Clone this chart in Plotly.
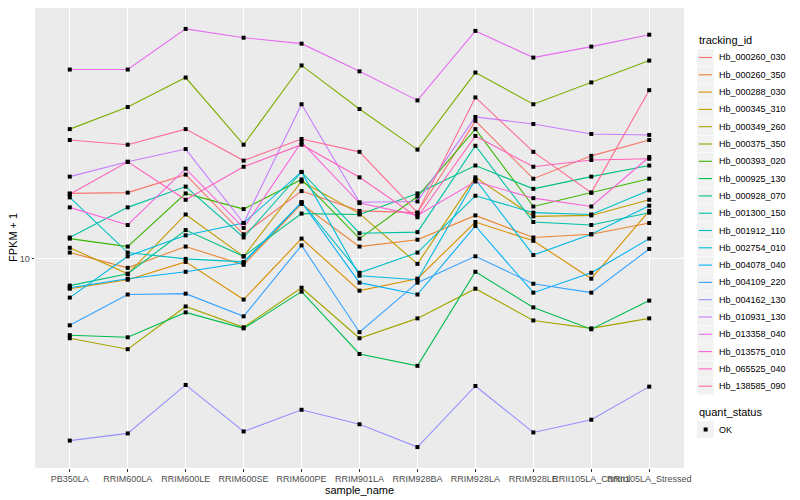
import numpy as np
import plotly.graph_objects as go

samples = ["PB350LA", "RRIM600LA", "RRIM600LE", "RRIM600SE", "RRIM600PE", "RRIM901LA",
           "RRIM928BA", "RRIM928LA", "RRIM928LE", "RRII105LA_Control", "RRII105LA_Stressed"]

tracking_ids = ["Hb_000260_030", "Hb_000260_350", "Hb_000288_030", "Hb_000345_310",
                "Hb_000349_260", "Hb_000375_350", "Hb_000393_020", "Hb_000925_130",
                "Hb_000928_070", "Hb_001300_150", "Hb_001912_110", "Hb_002754_010",
                "Hb_004078_040", "Hb_004109_220", "Hb_004162_130", "Hb_010931_130",
                "Hb_013358_040", "Hb_013575_010", "Hb_065525_040", "Hb_138585_090"]

# FPKM + 1 values, one list per tracking_id (order of samples)
hb_000260_030 = [16.6, 16.7, 19.2, 12.1, 16.9, 14.5, 14.3, 29.1, 18.6, 22.2, 25.1]
hb_000260_350 = [10.5, 9.33, 11.0, 9.55, 15.3, 11.0, 11.6, 14.0, 11.8, 12.1, 13.2]
hb_000288_030 = [7.94, 8.51, 9.77, 7.30, 11.7, 7.82, 8.58, 13.3, 11.5, 8.58, 14.5]
hb_000345_310 = [10.9, 8.91, 14.1, 10.2, 18.2, 14.2, 9.62, 18.8, 13.9, 14.0, 15.8]
hb_000349_260 = [5.41, 4.97, 6.92, 5.89, 8.00, 5.41, 6.31, 7.94, 6.21, 5.84, 6.31]
hb_000375_350 = [27.3, 32.4, 40.7, 24.2, 44.7, 31.9, 23.3, 42.3, 33.1, 39.2, 46.4]
hb_000393_020 = [11.7, 11.0, 16.6, 14.7, 18.5, 11.7, 16.2, 27.3, 15.0, 16.7, 18.6]
hb_000925_130 = [5.54, 5.45, 6.61, 5.84, 7.76, 4.79, 4.37, 9.05, 6.87, 5.80, 7.24]
hb_000928_070 = [8.13, 8.91, 12.5, 10.2, 14.2, 14.1, 16.6, 20.6, 17.2, 18.9, 20.6]
hb_001300_150 = [11.8, 14.9, 17.5, 11.8, 19.6, 12.2, 12.3, 24.0, 13.3, 13.0, 14.3]
hb_001912_110 = [16.1, 10.5, 10.0, 9.77, 15.5, 8.98, 10.5, 16.3, 14.3, 14.1, 17.0]
hb_002754_010 = [7.41, 10.2, 12.0, 13.2, 19.6, 8.78, 8.51, 18.5, 10.3, 12.1, 15.1]
hb_004078_040 = [8.00, 8.58, 9.05, 9.70, 15.5, 8.32, 7.59, 12.9, 7.70, 8.98, 11.7]
hb_004109_220 = [5.98, 7.59, 7.64, 6.41, 11.1, 5.67, 8.32, 10.2, 8.25, 7.70, 10.8]
hb_004162_130 = [2.45, 2.59, 3.77, 2.63, 3.11, 2.78, 2.33, 3.74, 2.61, 2.88, 3.72]
hb_010931_130 = [18.9, 21.2, 23.4, 13.2, 33.1, 15.5, 15.6, 30.0, 28.4, 26.3, 26.1]
hb_013358_040 = [43.3, 43.3, 59.3, 55.4, 52.9, 42.7, 34.1, 58.4, 47.5, 51.7, 56.7]
hb_013575_010 = [14.9, 13.0, 20.1, 12.7, 24.7, 15.4, 14.0, 18.2, 16.0, 15.0, 22.0]
hb_065525_040 = [16.5, 21.2, 15.8, 20.4, 24.2, 18.8, 13.8, 25.9, 20.4, 21.5, 21.7]
hb_138585_090 = [25.1, 24.2, 27.3, 21.4, 25.3, 22.9, 14.3, 34.9, 22.9, 16.7, 36.9]

series = [hb_000260_030, hb_000260_350, hb_000288_030, hb_000345_310, hb_000349_260,
          hb_000375_350, hb_000393_020, hb_000925_130, hb_000928_070, hb_001300_150,
          hb_001912_110, hb_002754_010, hb_004078_040, hb_004109_220, hb_004162_130,
          hb_010931_130, hb_013358_040, hb_013575_010, hb_065525_040, hb_138585_090]

quant_status = "OK"

colors = ["#F8766D", "#EA8331", "#D89000", "#C09B00", "#A3A500", "#7CAE00", "#39B600",
          "#00BB4E", "#00BF7D", "#00C1A3", "#00BFC4", "#00BAE0", "#00B0F6", "#35A2FF",
          "#9590FF", "#C77CFF", "#E76BF3", "#FA62DB", "#FF62BC", "#FF6C91"]

FONT = "Liberation Sans, Arial, sans-serif"
OFF = 8                     # page body margin of the viewer
W, H = 800 - OFF, 500 - OFF
# margins expressed so that the panel lands at page px x 35..684, y ~5..468
ML, MR, MT, MB = 35 - OFF, 116, 0, 32
PW, PH = W - ML - MR, H - MT - MB


def px2x(px):
    """page pixel x -> paper x"""
    return (px - OFF - ML) / PW


def px2y(py):
    """page pixel y -> paper y"""
    return (H - MB - (py - OFF)) / PH


fig = go.Figure()
for tid, vals, col in zip(tracking_ids, series, colors):
    fig.add_trace(go.Scatter(x=samples, y=vals, mode="lines", name=tid,
                             line=dict(color=col, width=1.1), showlegend=False))

all_x = [s for _ in series for s in samples]
all_y = [v for vals in series for v in vals]
fig.add_trace(go.Scatter(x=all_x, y=all_y, mode="markers", name=quant_status,
                         marker=dict(symbol="square", size=4, color="black"),
                         showlegend=False))

lo, hi = np.log10(min(all_y)), np.log10(max(all_y))
pad = 0.05 * (hi - lo)

# ---- manual ggplot-style legends ----
shapes, annotations = [], []
LX = 697          # legend left (page px)
KEY = 17.3        # key size (px)
TXT_X = 717
title_y = 40
first_y = 57.5

annotations.append(dict(text="tracking_id", xref="paper", yref="paper", x=px2x(LX),
                        y=px2y(title_y), xanchor="left", yanchor="middle", showarrow=False,
                        font=dict(size=11, color="black", family=FONT)))
for i, (tid, col) in enumerate(zip(tracking_ids, colors)):
    cy = first_y + i * KEY
    shapes.append(dict(type="rect", xref="paper", yref="paper",
                       x0=px2x(LX), x1=px2x(LX + KEY - 0.6),
                       y0=px2y(cy - KEY / 2 + 0.3), y1=px2y(cy + KEY / 2 - 0.3),
                       fillcolor="#F2F2F2", line=dict(width=0), layer="below"))
    shapes.append(dict(type="line", xref="paper", yref="paper",
                       x0=px2x(LX + 1.7), x1=px2x(LX + KEY - 2.3),
                       y0=px2y(cy), y1=px2y(cy), line=dict(color=col, width=1.1)))
    annotations.append(dict(text=tid, xref="paper", yref="paper", x=px2x(TXT_X),
                            y=px2y(cy), xanchor="left", yanchor="middle", showarrow=False,
                            font=dict(size=9, color="black", family=FONT)))

qs_title_y = 412
qs_y = 429.5
annotations.append(dict(text="quant_status", xref="paper", yref="paper", x=px2x(LX),
                        y=px2y(qs_title_y), xanchor="left", yanchor="middle", showarrow=False,
                        font=dict(size=11, color="black", family=FONT)))
shapes.append(dict(type="rect", xref="paper", yref="paper",
                   x0=px2x(LX), x1=px2x(LX + KEY - 0.6),
                   y0=px2y(qs_y - KEY / 2 + 0.3), y1=px2y(qs_y + KEY / 2 - 0.3),
                   fillcolor="#F2F2F2", line=dict(width=0), layer="below"))
shapes.append(dict(type="rect", xref="paper", yref="paper",
                   x0=px2x(LX + KEY / 2 - 2), x1=px2x(LX + KEY / 2 + 2),
                   y0=px2y(qs_y - 2), y1=px2y(qs_y + 2),
                   fillcolor="black", line=dict(width=0)))
annotations.append(dict(text=quant_status, xref="paper", yref="paper", x=px2x(TXT_X),
                        y=px2y(qs_y), xanchor="left", yanchor="middle", showarrow=False,
                        font=dict(size=9, color="black", family=FONT)))

# axis titles
annotations.append(dict(text="sample_name", xref="paper", yref="paper", x=0.5,
                        y=px2y(490), xanchor="center", yanchor="middle", showarrow=False,
                        font=dict(size=11, color="black", family=FONT)))
annotations.append(dict(text="FPKM + 1", xref="paper", yref="paper", x=px2x(13),
                        y=0.5, xanchor="center", yanchor="middle", showarrow=False,
                        textangle=-90, font=dict(size=11, color="black", family=FONT)))

fig.update_layout(
    width=W, height=H,
    margin=dict(l=ML, r=MR, t=MT, b=MB, autoexpand=False),
    paper_bgcolor="white", plot_bgcolor="#EBEBEB",
    font=dict(family=FONT, size=9, color="black"),
    showlegend=False,
    shapes=shapes, annotations=annotations,
    xaxis=dict(type="category", categoryorder="array", categoryarray=samples,
               range=[-0.6, len(samples) - 0.4], showgrid=True, gridcolor="white",
               gridwidth=1.1, zeroline=False, ticks="outside", ticklen=2.5,
               tickcolor="#333333", tickangle=0, automargin=False,
               tickfont=dict(size=9, color="#4D4D4D")),
    yaxis=dict(type="log", range=[lo - pad, hi + pad], tickvals=[10], ticktext=["10"],
               showgrid=True, gridcolor="white", gridwidth=1.1, zeroline=False,
               ticks="outside", ticklen=2.5, tickcolor="#333333", automargin=False,
               tickfont=dict(size=9, color="#4D4D4D")),
)

fig.write_html("out.html")
